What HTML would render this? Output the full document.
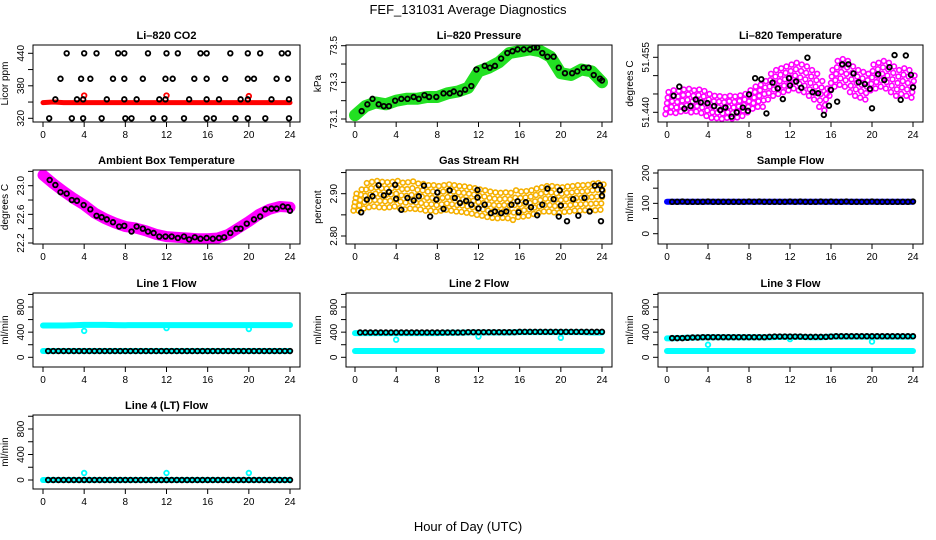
<!DOCTYPE html>
<html><head><meta charset="utf-8"><style>
html,body{margin:0;padding:0;background:#fff}
svg{display:block;font-family:"Liberation Sans",sans-serif}
</style></head><body>
<svg id="chart" width="936" height="540" viewBox="0 0 936 540" xmlns="http://www.w3.org/2000/svg">
<text x="468" y="14" font-size="13" text-anchor="middle">FEF_131031  Average Diagnostics</text>
<text x="468" y="531" font-size="13" text-anchor="middle">Hour of Day (UTC)</text>
</svg>
<script>
// ---------- data ----------
const HOURS = [0,1,2,3,4,5,6,7,8,9,10,11,12,13,14,15,16,17,18,19,20,21,22,23,24];
const HALF = [0.5,1,1.5,2,2.5,3,3.5,4,4.5,5,5.5,6,6.5,7,7.5,8,8.5,9,9.5,10,10.5,11,11.5,12,12.5,13,13.5,14,14.5,15,15.5,16,16.5,17,17.5,18,18.5,19,19.5,20,20.5,21,21.5,22,22.5,23,23.5,24];
const HALF0 = [0,0.5,1,1.5,2,2.5,3,3.5,4,4.5,5,5.5,6,6.5,7,7.5,8,8.5,9,9.5,10,10.5,11,11.5,12,12.5,13,13.5,14,14.5,15,15.5,16,16.5,17,17.5,18,18.5,19,19.5,20,20.5,21,21.5,22,22.5,23,23.5,24];
const XTICKS = [0,4,8,12,16,20,24];

// CO2
const co2BlackX = [2.3,4.0,5.2,7.3,7.9,10.2,12.0,13.1,15.3,15.9,18.2,19.9,21.1,23.2,23.8, 1.7,3.7,4.6,6.8,7.9,9.7,11.9,12.6,14.7,15.9,17.7,19.9,20.5,22.7,23.8, 1.2,3.3,3.9,6.2,7.9,9.1,11.3,11.9,14.2,15.9,17.1,19.2,19.9,22.2,23.9, 0.6,2.8,3.9,5.7,8.0,8.6,10.7,11.8,13.7,15.9,16.6,18.7,19.9,21.6,23.9];
const co2BlackY = [440,440,440,440,440,440,440,440,440,440,440,440,440,440,440, 393,393,393,393,393,393,393,393,393,393,393,393,393,393,393, 355,355,355,355,355,355,355,355,355,355,355,355,355,355,355, 320,320,320,320,320,320,320,320,320,320,320,320,320,320,320];
const co2Red = [349,350,349,349,349,349,349,349,349,349,349,349,349,349,349,349,349,349,349,349,349,349,349,349,349];
const co2RedOutX = [4,12,20];
const co2RedOutY = [362,362,361];

// Pressure
const presGreen = [73.12,73.17,73.19,73.18,73.2,73.21,73.21,73.22,73.22,73.24,73.25,73.27,73.36,73.38,73.41,73.46,73.47,73.48,73.47,73.44,73.35,73.34,73.37,73.36,73.30];
const presBlackX = [0.65,1.2,1.7,2.3,2.8,3.3,3.9,4.5,5.1,5.7,6.2,6.75,7.2,7.9,8.6,9.2,9.6,10.2,10.7,11.3,11.8,12.6,13.1,13.6,14.2,14.8,15.3,15.8,16.4,17,17.4,17.7,18.2,18.7,19.3,19.8,20.4,21.1,21.6,22.2,22.7,23.2,23.8,24];
const presBlackY = [73.143,73.18,73.21,73.18,73.17,73.17,73.2,73.21,73.21,73.22,73.21,73.23,73.22,73.22,73.24,73.24,73.25,73.24,73.26,73.28,73.37,73.39,73.38,73.39,73.43,73.46,73.47,73.48,73.48,73.48,73.49,73.49,73.46,73.44,73.44,73.38,73.35,73.35,73.36,73.38,73.38,73.34,73.32,73.31];

// Li-820 temperature
const tempMag = [51.4425,51.4430,51.4428,51.4432,51.4434,51.4430,51.4432,51.4428,51.4420,51.4415,51.4414,51.4412,51.4415,51.4413,51.4416,51.4420,51.4430,51.4440,51.4445,51.4450,51.4470,51.4480,51.4485,51.4490,51.4495,51.4500,51.4495,51.4490,51.4480,51.4470,51.4450,51.4435,51.4480,51.4505,51.4510,51.4505,51.4490,51.4480,51.4475,51.4470,51.4495,51.4500,51.4505,51.4500,51.4490,51.4480,51.4485,51.4480,51.4470];
const tempSpread = [0.003,0.003,0.003,0.003,0.003,0.003,0.003,0.003,0.003,0.003,0.003,0.003,0.003,0.003,0.003,0.003,0.003,0.003,0.003,0.0035,0.0035,0.0035,0.0035,0.0035,0.0035,0.0035,0.0035,0.0035,0.0035,0.0035,0.0035,0.003,0.0035,0.0035,0.0035,0.0035,0.0035,0.0035,0.0035,0.0035,0.0035,0.0035,0.0035,0.0035,0.0035,0.0035,0.0035,0.0035,0.003];
const tempBlackX = [0.65,1.2,1.7,2.3,2.8,3.3,3.95,4.6,5.2,5.7,6.3,6.8,7.4,7.9,8,8.6,9.2,9.7,10.3,10.8,11.3,11.9,12,12.6,13.1,13.7,14.2,14.75,15.3,15.8,16,16.6,17.1,17.7,18.2,18.7,19.3,19.8,20,20.6,21.2,21.7,22.2,22.8,23.3,23.8,24];
const tempBlackY = [51.4445,51.447,51.441,51.4417,51.4435,51.4427,51.4425,51.4417,51.4406,51.4413,51.4388,51.44,51.4413,51.4404,51.4449,51.4493,51.449,51.4397,51.4481,51.4465,51.4436,51.4493,51.4473,51.4484,51.4467,51.4549,51.4455,51.4452,51.4393,51.4418,51.4461,51.4429,51.4531,51.4531,51.4506,51.4482,51.4477,51.4464,51.4411,51.4504,51.4488,51.4523,51.4556,51.4434,51.4555,51.4502,51.4468];

// Ambient box temperature
const ambMag = [23.15,23.03,22.92,22.82,22.73,22.62,22.54,22.48,22.43,22.41,22.37,22.32,22.29,22.28,22.27,22.26,22.26,22.27,22.32,22.41,22.50,22.60,22.67,22.71,22.70];
const ambBlackX = [0.65,1.2,1.7,2.3,2.8,3.3,3.95,4.6,5.2,5.7,6.2,6.8,7.4,7.9,8.6,9.1,9.7,10.2,10.75,11.3,11.9,12.5,13.1,13.7,14.2,14.75,15.3,15.9,16.5,17.1,17.6,18.2,18.8,19.2,19.8,20.5,21.1,21.6,22.2,22.7,23.3,23.8,24];
const ambBlackY = [23.08,23.01,22.91,22.89,22.80,22.79,22.73,22.67,22.58,22.56,22.53,22.49,22.43,22.44,22.36,22.43,22.40,22.36,22.34,22.29,22.29,22.29,22.27,22.29,22.25,22.28,22.26,22.27,22.26,22.27,22.28,22.34,22.40,22.40,22.47,22.53,22.57,22.67,22.68,22.68,22.71,22.70,22.65];

// Gas stream RH
const rhCloud = [2.880,2.885,2.895,2.898,2.900,2.898,2.897,2.898,2.900,2.896,2.895,2.897,2.894,2.893,2.890,2.890,2.888,2.890,2.892,2.890,2.888,2.887,2.885,2.883,2.880,2.878,2.875,2.873,2.872,2.873,2.872,2.873,2.875,2.876,2.878,2.882,2.885,2.888,2.888,2.886,2.885,2.887,2.888,2.890,2.890,2.891,2.892,2.893,2.892];
const rhSpread = [0.02,0.025,0.03,0.03,0.03,0.03,0.03,0.03,0.03,0.03,0.032,0.032,0.03,0.03,0.03,0.03,0.03,0.03,0.03,0.03,0.03,0.03,0.03,0.03,0.03,0.03,0.03,0.03,0.03,0.03,0.03,0.035,0.03,0.03,0.03,0.03,0.03,0.03,0.03,0.03,0.03,0.03,0.03,0.03,0.03,0.03,0.032,0.032,0.03];
const rhBlackX = [0.6,1.15,1.7,2.3,2.8,3.3,3.9,4,4.5,5.1,5.7,6.2,6.7,7.3,7.9,8,8.6,9.2,9.7,10.2,10.8,11.3,11.9,11.9,12,12.6,13.2,13.6,14.2,14.7,15.2,15.8,15.9,16.6,17.1,17.7,18.2,18.7,19.3,19.8,19.9,20,20.6,21.2,21.7,22.3,22.8,23.3,23.8,24,23.9,24];
const rhBlackY = [2.856,2.886,2.894,2.92,2.896,2.904,2.921,2.888,2.862,2.89,2.884,2.894,2.919,2.846,2.886,2.903,2.864,2.908,2.89,2.878,2.883,2.874,2.909,2.891,2.865,2.874,2.854,2.858,2.854,2.858,2.874,2.882,2.856,2.88,2.868,2.849,2.874,2.912,2.887,2.846,2.908,2.872,2.835,2.887,2.848,2.89,2.858,2.919,2.92,2.909,2.835,2.895];

// Sample flow
const sampBlue = [105,105,105,105,105,105,105,105,105,105,105,105,105,105,105,105,105,105,105,105,105,105,105,105,105];
const sampBlack = [105,105,106,105,105,105,105,106,105,105,105,105,105,105,105,106,105,106,105,105,105,105,105,106,105,106,105,105,105,106,105,106,105,105,106,105,105,105,105,106,105,105,105,105,105,105,105,106];

// Line flows
const l1Cyan = [505,505,505,510,515,515,515,512,510,512,512,512,512,512,512,512,512,512,512,512,512,512,512,512,512];
const l1CyanLow = [100,100,100,100,100,100,100,100,100,100,100,100,100,100,100,100,100,100,100,100,100,100,100,100,100];
const l1Black = [100,100,100,100,100,100,100,100,100,100,100,100,100,100,100,100,100,100,100,100,100,100,100,100,100,100,100,100,100,100,100,100,100,100,100,100,100,100,100,100,100,100,100,100,100,100,100,100];
const l1OutX = [4,12,20];
const l1OutY = [420,465,450];

const l2Cyan = [385,385,385,385,385,385,385,385,385,390,390,395,395,395,395,395,400,400,400,400,400,400,400,395,395];
const l2CyanLow = [100,100,100,100,100,100,100,100,100,100,100,100,100,100,100,100,100,100,100,100,100,100,100,100,100];
const l2Black = [395,395,395,395,395,395,395,395,395,395,395,395,395,395,395,395,395,395,395,395,395,400,400,400,400,400,400,400,400,400,400,405,405,405,405,405,405,405,405,405,405,405,405,405,405,405,405,405];
const l2OutX = [4,12,20];
const l2OutY = [280,330,310];

const l3Cyan = [300,305,310,315,320,320,320,320,320,320,320,325,325,325,320,320,330,330,330,330,330,330,330,330,330];
const l3CyanLow = [100,100,100,100,100,100,100,100,100,100,100,100,100,100,100,100,100,100,100,100,100,100,100,100,100];
const l3Black = [305,305,305,310,315,315,320,320,320,320,320,320,320,320,320,320,320,320,320,325,330,330,330,330,330,330,325,325,325,325,325,330,335,335,335,335,335,335,335,335,335,335,335,335,335,335,335,335];
const l3OutX = [4,12,20];
const l3OutY = [200,290,250];

const l4Cyan = [0,0,0,0,0,0,0,0,0,0,0,0,0,0,0,0,0,0,0,0,0,0,0,0,0];
const l4Black = [0,0,0,0,0,0,0,0,0,0,0,0,0,0,0,0,0,0,0,0,0,0,0,0,0,0,0,0,0,0,0,0,0,0,0,0,0,0,0,0,0,0,0,0,0,0,0,0];
const l4OutX = [4,12,20];
const l4OutY = [110,110,110];

// ---------- drawing ----------
const NS = 'http://www.w3.org/2000/svg';
const svg = document.getElementById('chart');
const COLS = [{L:33,R:300,x0:43,x24:290},{L:346,R:612,x0:355,x24:602},{L:658,R:923,x0:667,x24:913}];
const ROWS = [{T:45,B:122},{T:170,B:244},{T:293,B:367},{T:415,B:489}];
function mk(tag, attrs, parent){const e=document.createElementNS(NS,tag);for(const k in attrs)e.setAttribute(k,attrs[k]);(parent||svg).appendChild(e);return e;}

function panel(p){
  const c=COLS[p.col], r=ROWS[p.row];
  const g=mk('g',{});
  
  
  const xs=h=>c.x0+h*(c.x24-c.x0)/24;
  const ys=v=>p.y1+(v-p.v1)*(p.y2-p.y1)/(p.v2-p.v1);
  const clip='clip'+p.col+'_'+p.row;
  const cp=mk('clipPath',{id:clip},g); mk('rect',{x:c.L,y:r.T,width:c.R-c.L,height:r.B-r.T},cp);
  const plot=mk('g',{'clip-path':'url(#'+clip+')'},g);
  
  
  p.series.forEach(s=>{
    const sg=mk('g',{},plot);
    
    
    if(s.type==='band'){
      const pts=s.x.map((h,i)=>xs(h).toFixed(1)+','+ys(s.y[i]).toFixed(1)).join(' ');
      mk('polyline',{points:pts,fill:'none',stroke:s.color,'stroke-width':s.w,'stroke-linejoin':'round','stroke-linecap':'round'},sg);
    } else if(s.type==='cloud'){
      [-1,-0.5,0,0.5,1].forEach(k=>{
        s.x.forEach((h,i)=>{
          mk('circle',{cx:xs(h+k*0.15),cy:ys(s.y[i]+k*s.s[i]),r:2.4,fill:'none',stroke:s.color,'stroke-width':1.6},sg);
        });
      });
    } else {
      s.x.forEach((h,i)=>{
        mk('circle',{cx:xs(h),cy:ys(s.y[i]),r:2.3,fill:'none',stroke:s.color,'stroke-width':1.8},sg);
      });
    }
  });
  const box=mk('rect',{x:c.L,y:r.T,width:c.R-c.L,height:r.B-r.T,fill:'none',stroke:'#000','stroke-width':1},g);
  
  
  const t=mk('text',{x:(c.L+c.R)/2,y:r.T-6,'font-size':11,'font-weight':'bold','text-anchor':'middle'},g);
  t.textContent=p.title;
  
  
  XTICKS.forEach(h=>{
    mk('line',{x1:xs(h),x2:xs(h),y1:r.B,y2:r.B+5,stroke:'#000'},g);
    const tl=mk('text',{x:xs(h),y:r.B+16,'font-size':10,'text-anchor':'middle'},g);
    tl.textContent=h;
    
    
  });
  p.yticks.forEach(v=>{
    const y=ys(v);
    mk('line',{x1:c.L-5,x2:c.L,y1:y,y2:y,stroke:'#000'},g);
  });
  p.ylabels.forEach((lab,i)=>{
    const y=ys(p.ylabelVals[i]);
    const tl=mk('text',{x:c.L-9,y:y,'font-size':10,'text-anchor':'middle',transform:'rotate(-90 '+(c.L-9)+' '+y+')'},g);
    tl.textContent=lab;
    
    
  });
  const ym=(r.T+r.B)/2;
  const at=mk('text',{x:c.L-25,y:ym,'font-size':10,'text-anchor':'middle',transform:'rotate(-90 '+(c.L-25)+' '+ym+')'},g);
  at.textContent=p.ytitle;
  
  
}

const FLOWTICKS=[0,200,400,600,800,1000];
panel({name:'co2-panel',title:'Li\u2013820 CO2',col:0,row:0,v1:440,y1:53.3,v2:320,y2:118.3,yticks:[320,350,380,410,440],ylabels:['320','380','440'],ylabelVals:[320,380,440],ytitle:'Licor ppm',
  series:[{name:'co2-red-band',type:'band',x:HOURS,y:co2Red,color:'#ff0000',w:5},
          {name:'co2-red-points',type:'pts',x:co2RedOutX,y:co2RedOutY,color:'#ff0000'},
          {name:'co2-black-points',type:'pts',x:co2BlackX,y:co2BlackY,color:'#000'}]});
panel({name:'pressure-panel',title:'Li\u2013820 Pressure',col:1,row:0,v1:73.5,y1:45.7,v2:73.1,y2:119,yticks:[73.1,73.2,73.3,73.4,73.5],ylabels:['73.1','73.3','73.5'],ylabelVals:[73.1,73.3,73.5],ytitle:'kPa',
  series:[{name:'pressure-green-band',type:'band',x:HOURS,y:presGreen,color:'#22e022',w:12},
          {name:'pressure-black-points',type:'pts',x:presBlackX,y:presBlackY,color:'#000'}]});
panel({name:'li820-temperature-panel',title:'Li\u2013820 Temperature',col:2,row:0,v1:51.455,y1:57.3,v2:51.440,y2:112.3,yticks:[51.440,51.445,51.450,51.455],ylabels:['51.440','51.455'],ylabelVals:[51.440,51.455],ytitle:'degrees C',
  series:[{name:'temperature-magenta-points',type:'cloud',x:HALF0,y:tempMag,s:tempSpread,color:'#ff00ff'},
          {name:'temperature-black-points',type:'pts',x:tempBlackX,y:tempBlackY,color:'#000'}]});
panel({name:'ambient-temperature-panel',title:'Ambient Box Temperature',col:0,row:1,v1:23.0,y1:185.7,v2:22.2,y2:243,yticks:[22.2,22.4,22.6,22.8,23.0,23.2],ylabels:['22.2','22.6','23.0'],ylabelVals:[22.2,22.6,23.0],ytitle:'degrees C',
  series:[{name:'ambient-magenta-band',type:'band',x:HOURS,y:ambMag,color:'#ff00ff',w:11},
          {name:'ambient-black-points',type:'pts',x:ambBlackX,y:ambBlackY,color:'#000'}]});
panel({name:'rh-panel',title:'Gas Stream RH',col:1,row:1,v1:2.90,y1:193.7,v2:2.80,y2:236,yticks:[2.80,2.85,2.90,2.95],ylabels:['2.80','2.90'],ylabelVals:[2.80,2.90],ytitle:'percent',
  series:[{name:'rh-orange-points',type:'cloud',x:HALF0,y:rhCloud,s:rhSpread,color:'#f5b000'},
          {name:'rh-black-points',type:'pts',x:rhBlackX,y:rhBlackY,color:'#000'}]});
panel({name:'sample-flow-panel',title:'Sample Flow',col:2,row:1,v1:200,y1:173,v2:0,y2:233.7,yticks:[0,50,100,150,200],ylabels:['0','100','200'],ylabelVals:[0,100,200],ytitle:'ml/min',
  series:[{name:'sample-blue-band',type:'band',x:HOURS,y:sampBlue,color:'#0000ff',w:6},
          {name:'sample-black-points',type:'pts',x:HALF,y:sampBlack,color:'#000'}]});
panel({name:'line1-flow-panel',title:'Line 1 Flow',col:0,row:2,v1:0,y1:357.3,v2:800,y2:307,yticks:FLOWTICKS,ylabels:['0','400','800'],ylabelVals:[0,400,800],ytitle:'ml/min',
  series:[{name:'line1-cyan-band',type:'band',x:HOURS,y:l1Cyan,color:'#00ffff',w:6},
          {name:'line1-cyan-low-band',type:'band',x:HOURS,y:l1CyanLow,color:'#00ffff',w:6},
          {name:'line1-cyan-outliers',type:'pts',x:l1OutX,y:l1OutY,color:'#00ffff'},
          {name:'line1-black-points',type:'pts',x:HALF,y:l1Black,color:'#000'}]});
panel({name:'line2-flow-panel',title:'Line 2 Flow',col:1,row:2,v1:0,y1:357.3,v2:800,y2:307,yticks:FLOWTICKS,ylabels:['0','400','800'],ylabelVals:[0,400,800],ytitle:'ml/min',
  series:[{name:'line2-cyan-band',type:'band',x:HOURS,y:l2Cyan,color:'#00ffff',w:6},
          {name:'line2-cyan-low-band',type:'band',x:HOURS,y:l2CyanLow,color:'#00ffff',w:6},
          {name:'line2-cyan-outliers',type:'pts',x:l2OutX,y:l2OutY,color:'#00ffff'},
          {name:'line2-black-points',type:'pts',x:HALF,y:l2Black,color:'#000'}]});
panel({name:'line3-flow-panel',title:'Line 3 Flow',col:2,row:2,v1:0,y1:357.3,v2:800,y2:307,yticks:FLOWTICKS,ylabels:['0','400','800'],ylabelVals:[0,400,800],ytitle:'ml/min',
  series:[{name:'line3-cyan-band',type:'band',x:HOURS,y:l3Cyan,color:'#00ffff',w:6},
          {name:'line3-cyan-low-band',type:'band',x:HOURS,y:l3CyanLow,color:'#00ffff',w:6},
          {name:'line3-cyan-outliers',type:'pts',x:l3OutX,y:l3OutY,color:'#00ffff'},
          {name:'line3-black-points',type:'pts',x:HALF,y:l3Black,color:'#000'}]});
panel({name:'line4-flow-panel',title:'Line 4 (LT) Flow',col:0,row:3,v1:0,y1:480,v2:800,y2:429,yticks:FLOWTICKS,ylabels:['0','400','800'],ylabelVals:[0,400,800],ytitle:'ml/min',
  series:[{name:'line4-cyan-band',type:'band',x:HOURS,y:l4Cyan,color:'#00ffff',w:6},
          {name:'line4-cyan-outliers',type:'pts',x:l4OutX,y:l4OutY,color:'#00ffff'},
          {name:'line4-black-points',type:'pts',x:HALF,y:l4Black,color:'#000'}]});
</script>
</body></html>
